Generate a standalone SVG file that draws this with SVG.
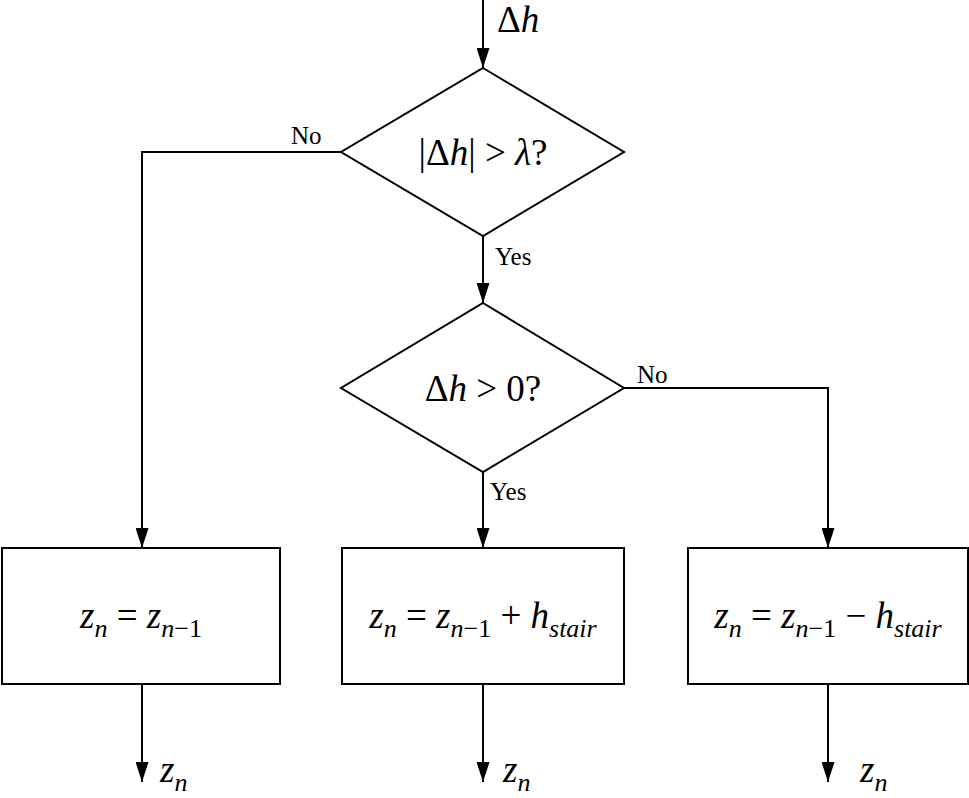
<svg xmlns="http://www.w3.org/2000/svg" width="969" height="798" viewBox="0 0 969 798">
<style>
.s{fill:none;stroke:#000;stroke-width:2}
.b{fill:#fff;stroke:#000;stroke-width:2}
text,tspan{font-family:"Liberation Serif","DejaVu Serif",serif;fill:#000}
.l{font-size:25px}
.e{font-size:37px}
.i{font-style:italic}
</style>
<defs>
<marker id="a" viewBox="0 0 10 10" refX="10" refY="5" markerWidth="20" markerHeight="13" markerUnits="userSpaceOnUse" orient="auto" preserveAspectRatio="none"><path d="M0,0L10,5L0,10z" fill="#000"/></marker>
</defs>
<rect width="969" height="798" fill="#fff"/>
<g id="connectors">
<path class="s" d="M483,0V68" marker-end="url(#a)"/>
<path class="s" d="M341,152H142V548" marker-end="url(#a)"/>
<path class="s" d="M483,236V303" marker-end="url(#a)"/>
<path class="s" d="M624,388H828V548" marker-end="url(#a)"/>
<path class="s" d="M483,472V548" marker-end="url(#a)"/>
<path class="s" d="M142,684V782" marker-end="url(#a)"/>
<path class="s" d="M483,684V782" marker-end="url(#a)"/>
<path class="s" d="M828,684V782" marker-end="url(#a)"/>
<text class="e" x="497" y="32">Δ<tspan class="i">h</tspan></text>
<text class="l" x="291" y="144">No</text>
<text class="l" x="495" y="265">Yes</text>
<text class="l" x="637" y="383">No</text>
<text class="l" x="490" y="500">Yes</text>
<text class="e i" x="160" y="782">z<tspan font-size="26" dy="9">n</tspan></text>
<text class="e i" x="503" y="782">z<tspan font-size="26" dy="9">n</tspan></text>
<text class="e i" x="860" y="782">z<tspan font-size="26" dy="9">n</tspan></text>
</g>
<g id="d1">
<path class="b" d="M483,68L624,152L483,236L341,152z"/>
<text class="e" x="483" y="165" text-anchor="middle">|Δ<tspan class="i">h</tspan>| &gt; <tspan class="i">λ</tspan>?</text>
</g>
<g id="d2">
<path class="b" d="M483,303L624,388L483,472L341,388z"/>
<text class="e" x="483" y="401" text-anchor="middle">Δ<tspan class="i">h</tspan> &gt; 0?</text>
</g>
<g id="b1">
<rect class="b" x="2" y="548" width="278" height="136"/>
<text class="e" x="141" y="628" text-anchor="middle"><tspan class="i">z</tspan><tspan class="i" font-size="26" dy="9">n</tspan><tspan dy="-9"> = </tspan><tspan class="i">z</tspan><tspan font-size="26" dy="9"><tspan class="i">n</tspan>−1</tspan></text>
</g>
<g id="b2">
<rect class="b" x="342" y="548" width="282" height="136"/>
<text class="e" x="483" y="628" text-anchor="middle"><tspan class="i">z</tspan><tspan class="i" font-size="26" dy="9">n</tspan><tspan dy="-9"> = </tspan><tspan class="i">z</tspan><tspan font-size="26" dy="9"><tspan class="i">n</tspan>−1</tspan><tspan dy="-9"> + </tspan><tspan class="i">h</tspan><tspan class="i" font-size="26" dy="9">stair</tspan></text>
</g>
<g id="b3">
<rect class="b" x="688" y="548" width="280" height="136"/>
<text class="e" x="828" y="628" text-anchor="middle"><tspan class="i">z</tspan><tspan class="i" font-size="26" dy="9">n</tspan><tspan dy="-9"> = </tspan><tspan class="i">z</tspan><tspan font-size="26" dy="9"><tspan class="i">n</tspan>−1</tspan><tspan dy="-9"> − </tspan><tspan class="i">h</tspan><tspan class="i" font-size="26" dy="9">stair</tspan></text>
</g>
</svg>
